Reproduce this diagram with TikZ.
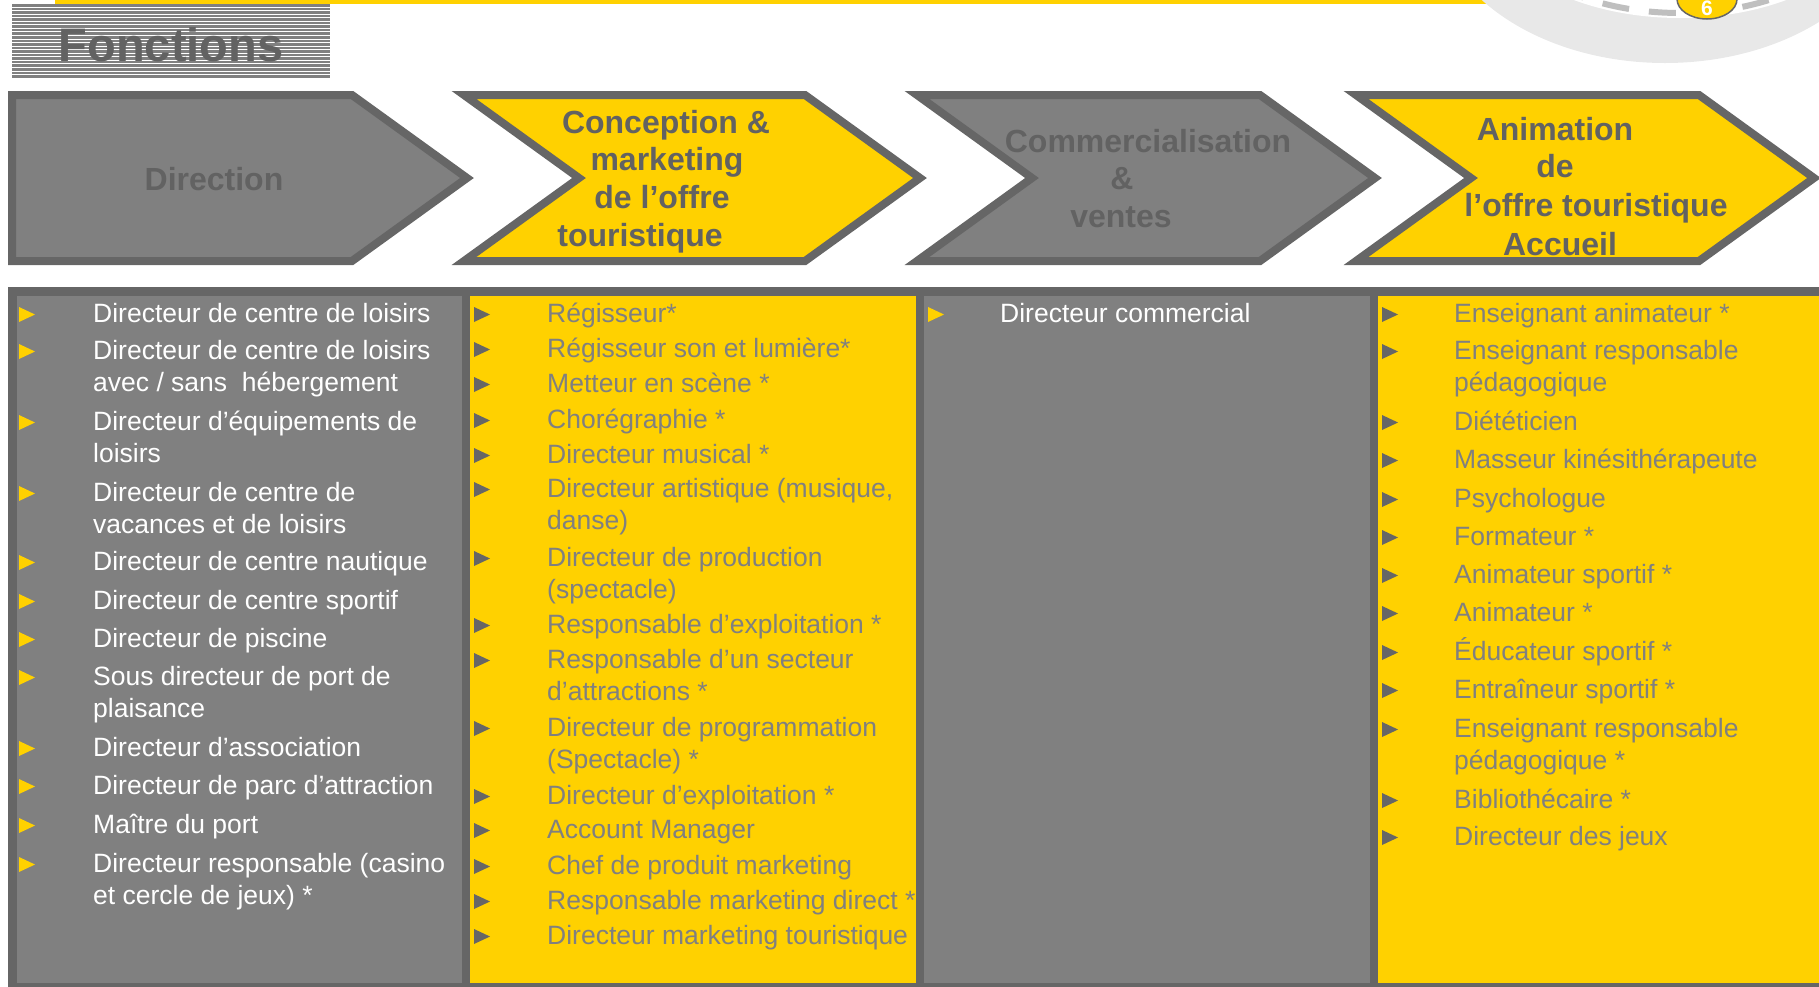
\documentclass[tikz,border=0pt]{standalone}
\usepackage{fontspec}
\setmainfont{Liberation Sans}
\definecolor{ygold}{HTML}{FFD100}
\definecolor{dgray}{HTML}{666666}
\definecolor{mgray}{HTML}{808080}
\definecolor{hdtext}{HTML}{626262}
\definecolor{lgray}{HTML}{E8E8E8}
\definecolor{dashcol}{HTML}{BFBFBF}
\newcommand\itm[5]{%
  \fill[bul] (#2,#4-15) -- (#2+16,#4-7.5) -- (#2,#4) -- cycle;
  \node[itxt] (#1) at (#3,#4-26) {\rule{0pt}{26pt}#5};
}
\begin{document}
\begin{tikzpicture}[x=1pt,y=-1pt,
  hdbox/.style={draw=dgray, line width=8pt, line join=miter},
  hd/.style={font=\fontsize{32}{38}\bfseries, text=hdtext, inner sep=0pt, anchor=base},
  itxt/.style={font=\fontsize{26.5}{32}\selectfont, inner sep=0pt, anchor=north west, align=left},
  bul/.style={fill=ygold}]
\useasboundingbox (0,0) rectangle (1819,986);
\clip (0,0) rectangle (1819,986);

% top yellow rule
\fill[ygold] (55,0) rectangle (1600,3.5);

% top-right decoration
\fill[lgray] (1665,-100) ellipse [x radius=232pt, y radius=163pt];
\fill[white] (1680,-100) ellipse [x radius=200pt, y radius=118pt];
\draw[dashcol, line width=6pt, dash pattern=on 27pt off 20pt, dash phase=8pt] (1680,-100) ellipse [x radius=191pt, y radius=113pt];
\draw[dgray, fill=ygold, line width=1.5pt] (1707,-1) ellipse [x radius=30pt, y radius=20pt];
\node[font=\fontsize{21}{24}\bfseries, text=white, inner sep=0pt, anchor=base] (six) at (1707,15) {6};

% title box
\fill[mgray] (12,4) rectangle (330,79);
\foreach \k in {0,...,20} \fill[white] (12,{6.6+\k*3.55}) rectangle (330,{7.6+\k*3.55});
\node[font=\fontsize{47}{50}\bfseries, text=hdtext, anchor=base, inner sep=0pt] (title) at (171,61) {Fonctions};

% chevrons
\draw[hdbox, fill=mgray] (12,95) -- (352,95) -- (467,178) -- (352,261) -- (12,261) -- cycle;
\draw[hdbox, fill=ygold] (464,95) -- (805,95) -- (920,178) -- (805,261) -- (464,261) -- (579,178) -- cycle;
\draw[hdbox, fill=mgray] (917,95) -- (1260,95) -- (1375,178) -- (1260,261) -- (917,261) -- (1032,178) -- cycle;
\draw[hdbox, fill=ygold] (1356,95) -- (1699,95) -- (1814,178) -- (1699,261) -- (1356,261) -- (1471,178) -- cycle;

\node[hd] (h1) at (214,190) {Direction};
\node[hd] (h2a) at (666,133) {Conception \&};
\node[hd] (h2b) at (667,170) {marketing};
\node[hd] (h2c) at (662,208) {de l’offre};
\node[hd] (h2d) at (640,246) {touristique};
\node[hd] (h3a) at (1148,152) {Commercialisation};
\node[hd] (h3b) at (1122,189) {\&};
\node[hd] (h3c) at (1121,227) {ventes};
\node[hd] (h4a) at (1555,140) {Animation};
\node[hd] (h4b) at (1555,177) {de};
\node[hd] (h4c) at (1596,216) {l’offre touristique};
\node[hd] (h4d) at (1560,255) {Accueil};

% table
\fill[dgray] (8,287) rectangle (1830,995);
\fill[mgray] (17,296) rectangle (462,983);
\fill[ygold] (470,296) rectangle (916,983);
\fill[mgray] (924,296) rectangle (1370,983);
\fill[ygold] (1378,296) rectangle (1830,983);

% column 1
\begin{scope}[bul/.style={fill=ygold}, itxt/.append style={text=white}]
\itm{a1}{19}{93}{322}{Directeur de centre de loisirs}
\itm{a2}{19}{93}{359}{Directeur de centre de loisirs\\avec / sans\ \ hébergement}
\itm{a3}{19}{93}{430}{Directeur d’équipements de\\loisirs}
\itm{a4}{19}{93}{501}{Directeur de centre de\\vacances et de loisirs}
\itm{a5}{19}{93}{570}{Directeur de centre nautique}
\itm{a6}{19}{93}{609}{Directeur de centre sportif}
\itm{a7}{19}{93}{647}{Directeur de piscine}
\itm{a8}{19}{93}{685}{Sous directeur de port de\\plaisance}
\itm{a9}{19}{93}{756}{Directeur d’association}
\itm{a10}{19}{93}{794}{Directeur de parc d’attraction}
\itm{a11}{19}{93}{833}{Maître du port}
\itm{a12}{19}{93}{872}{Directeur responsable (casino\\et cercle de jeux) *}
\end{scope}

% column 2
\begin{scope}[bul/.style={fill=dgray}, itxt/.append style={text=mgray}]
\itm{b1}{474}{547}{322}{Régisseur*}
\itm{b2}{474}{547}{357}{Régisseur son et lumière*}
\itm{b3}{474}{547}{392}{Metteur en scène *}
\itm{b4}{474}{547}{428}{Chorégraphie *}
\itm{b5}{474}{547}{463}{Directeur musical *}
\itm{b6}{474}{547}{497}{Directeur artistique (musique,\\danse)}
\itm{b7}{474}{547}{566}{Directeur de production\\(spectacle)}
\itm{b8}{474}{547}{633}{Responsable d’exploitation *}
\itm{b9}{474}{547}{668}{Responsable d’un secteur\\d’attractions *}
\itm{b10}{474}{547}{736}{Directeur de programmation\\(Spectacle) *}
\itm{b11}{474}{547}{804}{Directeur d’exploitation *}
\itm{b12}{474}{547}{838}{Account Manager}
\itm{b13}{474}{547}{874}{Chef de produit marketing}
\itm{b14}{474}{547}{909}{Responsable marketing direct *}
\itm{b15}{474}{547}{944}{Directeur marketing touristique}
\end{scope}

% column 3
\begin{scope}[bul/.style={fill=ygold}, itxt/.append style={text=white}]
\itm{c1}{928}{1000}{322}{Directeur commercial}
\end{scope}

% column 4
\begin{scope}[bul/.style={fill=dgray}, itxt/.append style={text=mgray}]
\itm{d1}{1382}{1454}{322}{Enseignant animateur *}
\itm{d2}{1382}{1454}{359}{Enseignant responsable\\pédagogique}
\itm{d3}{1382}{1454}{430}{Diététicien}
\itm{d4}{1382}{1454}{468}{Masseur kinésithérapeute}
\itm{d5}{1382}{1454}{507}{Psychologue}
\itm{d6}{1382}{1454}{545}{Formateur *}
\itm{d7}{1382}{1454}{583}{Animateur sportif *}
\itm{d8}{1382}{1454}{621}{Animateur *}
\itm{d9}{1382}{1454}{660}{Éducateur sportif *}
\itm{d10}{1382}{1454}{698}{Entraîneur sportif *}
\itm{d11}{1382}{1454}{737}{Enseignant responsable\\pédagogique *}
\itm{d12}{1382}{1454}{808}{Bibliothécaire *}
\itm{d13}{1382}{1454}{845}{Directeur des jeux}
\end{scope}
\end{tikzpicture}
\end{document}
